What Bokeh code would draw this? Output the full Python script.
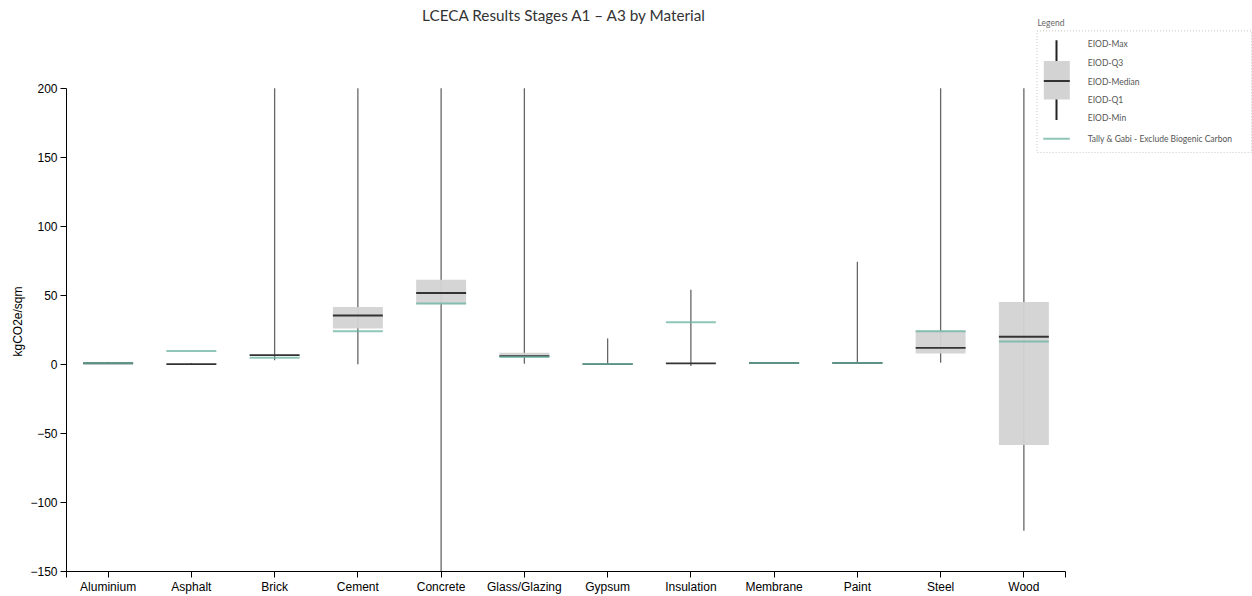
import numpy as np
from bokeh.plotting import figure
from bokeh.models import Range1d, FixedTicker, Title
from bokeh.core.properties import value
from bokeh.embed import file_html
from bokeh.resources import INLINE

# ---------------- data ----------------
materials = ["Aluminium", "Asphalt", "Brick", "Cement", "Concrete", "Glass/Glazing",
             "Gypsum", "Insulation", "Membrane", "Paint", "Steel", "Wood"]
eiod_min = [0.5, 0.0, 2.9, 0.0, -150.0, 0.5, 0.0, -1.2, 0.5, 0.5, 1.2, -120.5]
eiod_q1 = [0.6, 0.1, 6.3, 26.0, 43.6, 5.6, 0.1, 0.5, 0.8, 0.8, 7.9, -58.4]
eiod_median = [0.8, 0.2, 6.7, 35.4, 51.7, 6.0, 0.2, 0.7, 1.0, 1.0, 12.0, 20.0]
eiod_q3 = [1.0, 0.3, 7.0, 41.6, 61.3, 8.4, 0.3, 1.0, 1.2, 1.2, 24.5, 45.2]
eiod_max = [1.7, 0.8, 200.0, 200.0, 200.0, 200.0, 18.8, 54.0, 1.8, 74.3, 200.0, 200.0]
tally_exclude_biogenic = [0.8, 9.6, 4.8, 24.0, 44.0, 5.4, 0.2, 30.5, 1.0, 1.0, 24.0, 16.6]
y_ticks = [-150, -100, -50, 0, 50, 100, 150, 200]
y_min, y_max = -150, 200

title_text = "LCECA Results Stages A1 \u2013 A3 by Material"
y_label = "kgCO2e/sqm"
legend_title = "Legend"
legend_labels = ["EIOD-Max", "EIOD-Q3", "EIOD-Median", "EIOD-Q1", "EIOD-Min"]
tally_label = "Tally & Gabi - Exclude Biogenic Carbon"

# ---------------- layout constants (pixels) ----------------
W, H = 1252, 596
BORDER_LEFT, BORDER_BOTTOM = 66, 23
FRAME_W = W - BORDER_LEFT
FRAME_H = H - BORDER_BOTTOM
TOP_GAP = 88            # from frame top to the "200" tick
AXIS_LEN_PX = 999       # length of the category axis
BAND = 2                # data units per category band
BOX_FRAC = 0.6
YLABEL_OFFSET = 215     # from frame bottom to the start of the y label

n = len(materials)
band_px = AXIS_LEN_PX / n
x_end = FRAME_W / band_px * BAND
y_end = y_max + TOP_GAP * (y_max - y_min) / (FRAME_H - TOP_GAP)

xs = np.arange(n) * BAND + BAND / 2
half = BAND * BOX_FRAC / 2

p = figure(width=W, height=H, output_backend="svg", toolbar_location=None, title=None,
           x_range=Range1d(0, x_end), y_range=Range1d(y_min, y_end),
           min_border_left=BORDER_LEFT, min_border_right=0, min_border_top=0,
           min_border_bottom=BORDER_BOTTOM)
p.extra_x_ranges = {"px": Range1d(BORDER_LEFT, W)}
p.extra_y_ranges = {"py": Range1d(FRAME_H, 0)}
p.outline_line_color = None
p.xgrid.visible = False
p.ygrid.visible = False
p.background_fill_color = "white"
p.border_fill_color = "white"

# ---- axes ----
ax = p.xaxis[0]
ax.bounds = (0, n * BAND)
ax.ticker = FixedTicker(ticks=[0] + [int(v) for v in xs] + [n * BAND])
overrides = {int(v): m for v, m in zip(xs, materials)}
overrides[0] = ""
overrides[n * BAND] = ""
ax.major_label_overrides = overrides
ax.minor_tick_line_color = None
ax.major_tick_in = 0
ax.major_tick_out = 6
ax.major_label_standoff = 2
ax.major_label_text_font = "Liberation Sans"
ax.major_label_text_font_size = "12px"
ax.major_label_text_color = "#000000"
ax.axis_line_color = "#000000"
ax.major_tick_line_color = "#000000"

ay = p.yaxis[0]
ay.bounds = (y_min, y_max)
ay.ticker = FixedTicker(ticks=y_ticks)
ay.major_label_overrides = {t: str(t).replace("-", "\u2212") for t in y_ticks}
ay.minor_tick_line_color = None
ay.major_tick_in = 0
ay.major_tick_out = 6
ay.major_label_standoff = 3
ay.major_label_text_font = "Liberation Sans"
ay.major_label_text_font_size = "12px"
ay.major_label_text_color = "#000000"
ay.axis_line_color = "#000000"
ay.major_tick_line_color = "#000000"

# y-axis label as a side title (so it can sit off-centre like the reference)
p.add_layout(Title(text=y_label, align="left", offset=YLABEL_OFFSET,
                   text_font="Liberation Sans", text_font_size="12px",
                   text_font_style="normal", text_color="#000000", standoff=6), "left")

# ---- box plots ----
WHISKER = "#666666"
BOXFILL = "#d3d3d3"
MEDIAN = "#333333"
TALLY = "#69b3a2"

p.segment(x0=xs, y0=eiod_min, x1=xs, y1=eiod_max, line_color=WHISKER, line_width=1.3)
p.vbar(x=xs, width=2 * half, top=eiod_q3, bottom=eiod_q1, fill_color=BOXFILL,
       fill_alpha=0.95, line_color=None)
p.segment(x0=xs - half, y0=eiod_median, x1=xs + half, y1=eiod_median,
          line_color=MEDIAN, line_width=1.8)
p.segment(x0=xs - half, y0=tally_exclude_biogenic, x1=xs + half, y1=tally_exclude_biogenic,
          line_color=TALLY, line_alpha=0.75, line_width=2)

# ---- title ----
p.text(x=[564], y=[15], text=[title_text], x_range_name="px", y_range_name="py",
       text_font=value("Lato"), text_font_size="15.3px", text_color="#333333",
       text_align="center", text_baseline="middle")

# ---- custom legend (pixel coordinates) ----
p.text(x=[1037], y=[23], text=[legend_title], x_range_name="px", y_range_name="py",
       text_font=value("Lato"), text_font_size="8.5px", text_color="#666666",
       text_align="left", text_baseline="middle")
p.quad(left=[1036.5], right=[1251], top=[30.5], bottom=[152.5], x_range_name="px",
       y_range_name="py", fill_color=None, line_color="#c8c8c8", line_dash="1 2",
       line_width=1)
p.segment(x0=[1056], y0=[40], x1=[1056], y1=[120], x_range_name="px", y_range_name="py",
          line_color="#222222", line_width=2)
p.quad(left=[1043.3], right=[1069.3], top=[60.7], bottom=[99.3], x_range_name="px",
       y_range_name="py", fill_color=BOXFILL, line_color=None)
p.segment(x0=[1043.3], y0=[80.7], x1=[1069.3], y1=[80.7], x_range_name="px",
          y_range_name="py", line_color="#333333", line_width=2)
p.text(x=[1087.3] * 5, y=[43.3, 62.3, 81.7, 100.0, 118.3], text=legend_labels,
       x_range_name="px", y_range_name="py", text_font=value("Lato"),
       text_font_size="8.5px", text_color="#555555", text_align="left",
       text_baseline="middle")
p.segment(x0=[1042.7], y0=[138.7], x1=[1069.3], y1=[138.7], x_range_name="px",
          y_range_name="py", line_color=TALLY, line_alpha=0.75, line_width=2)
p.text(x=[1087.3], y=[139.3], text=[tally_label], x_range_name="px", y_range_name="py",
       text_font=value("Lato"), text_font_size="8.5px", text_color="#555555",
       text_align="left", text_baseline="middle")

open("out.html", "w").write(file_html(p, INLINE))
